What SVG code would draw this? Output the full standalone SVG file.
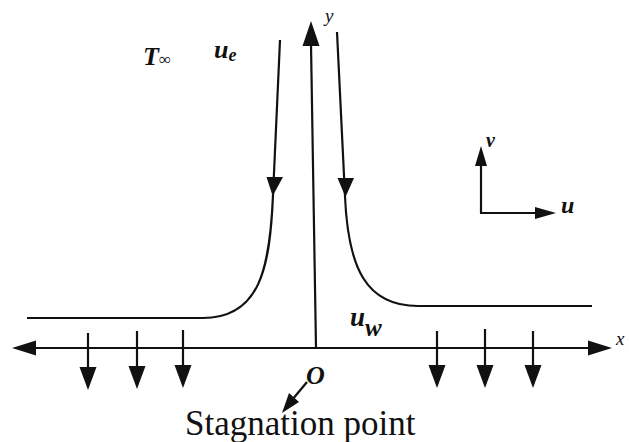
<svg xmlns="http://www.w3.org/2000/svg" width="629" height="442" viewBox="0 0 629 442">
<style>
.ln{fill:none;stroke:#111;stroke-width:2.2}
.ah{fill:#111;stroke:none}
text{font-family:"Liberation Serif","Times New Roman","DejaVu Serif",serif;fill:#111}
.lb{font-style:italic;font-weight:bold}
.lt{font-style:italic}
</style>
<rect width="629" height="442" fill="#fff"/>
<g id="connectors">
  <line class="ln" x1="34" y1="348" x2="592" y2="348"/>
  <polygon class="ah" points="12,348 36,340.5 36,355.5"/>
  <polygon class="ah" points="612,348 588,340.5 588,355.5"/>
  <line class="ln" x1="316" y1="348" x2="311" y2="44"/>
  <polygon class="ah" points="311,21 302.5,46 319.5,46"/>
  <path class="ln" d="M280,40 L273,195 C270,268 260,318 203,318 L27,318"/>
  <polygon class="ah" points="272.7,196 266.5,177 283,177"/>
  <path class="ln" d="M337,32 L345,196 C348,268 366,306 418,306 L592,306"/>
  <polygon class="ah" points="345.5,197 337.5,178 354,178"/>
  <line class="ln" x1="481" y1="213" x2="481" y2="163"/>
  <polygon class="ah" points="481,146 475,166 487,166"/>
  <line class="ln" x1="480" y1="213" x2="538" y2="213"/>
  <polygon class="ah" points="556,213 535,207 535,219"/>
  <line class="ln" x1="88" y1="333" x2="88" y2="370"/>
  <polygon class="ah" points="88,390 79.5,367 96.5,367"/>
  <line class="ln" x1="137" y1="331" x2="137" y2="370"/>
  <polygon class="ah" points="137,389 128.5,366 145.5,366"/>
  <line class="ln" x1="183" y1="330" x2="183" y2="368"/>
  <polygon class="ah" points="183,388 174.5,365 191.5,365"/>
  <line class="ln" x1="437" y1="331" x2="437" y2="368"/>
  <polygon class="ah" points="437,388 428.5,365 445.5,365"/>
  <line class="ln" x1="485" y1="329" x2="485" y2="368"/>
  <polygon class="ah" points="485,388 476.5,365 493.5,365"/>
  <line class="ln" x1="533" y1="331" x2="533" y2="368"/>
  <polygon class="ah" points="533,388 524.5,365 541.5,365"/>
  <line class="ln" x1="307" y1="382" x2="292" y2="400"/>
  <polygon class="ah" points="282,413 289,393 299,402"/>
</g>
<g id="labels">
  <text class="lb" x="143" y="65" font-size="26">T<tspan font-size="17" font-weight="normal" font-style="normal">∞</tspan></text>
  <text class="lb" x="214" y="58" font-size="26">u<tspan font-size="18" dy="3">e</tspan></text>
  <text class="lt" x="325" y="22" font-size="19">y</text>
  <text class="lb" x="486" y="147" font-size="20">v</text>
  <text class="lb" x="561" y="213" font-size="24">u</text>
  <text class="lb" x="350" y="326" font-size="27">u<tspan dy="10" font-size="25">w</tspan></text>
  <text class="lt" x="616" y="345" font-size="19">x</text>
  <text class="lb" x="306" y="384" font-size="26">O</text>
  <text x="185" y="435" font-size="35">Stagnation point</text>
</g>
</svg>
